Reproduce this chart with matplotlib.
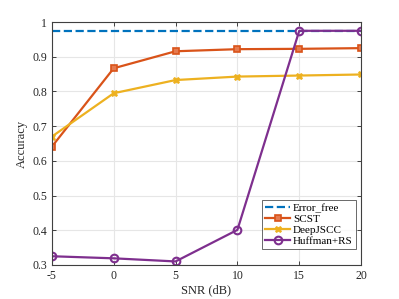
import matplotlib
matplotlib.use("Agg")
import matplotlib.pyplot as plt

snr = [-5, 0, 5, 10, 15, 20]
error_free = [0.975, 0.975, 0.975, 0.975, 0.975, 0.975]
scst = [0.641, 0.867, 0.916, 0.922, 0.923, 0.925]
deepjscc = [0.670, 0.795, 0.833, 0.843, 0.846, 0.849]
huffman = [0.325, 0.319, 0.310, 0.401, 0.975, 0.975]

plt.rcParams['font.family'] = ['Liberation Serif', 'DejaVu Serif']
plt.rcParams['axes.unicode_minus'] = False

fig = plt.figure(figsize=(3.99, 2.99), dpi=100)
ax = fig.add_axes([0.130, 0.114, 0.775, 0.812])

ax.plot(snr, error_free, '--', color='#0072BD', lw=1.6, label='Error_free')
ax.plot(snr, scst, '-s', color='#D95319', lw=1.6, ms=4.5, mfc='#E57A4F', mew=1.2, label='SCST')
ax.plot(snr, deepjscc, '-X', color='#EDB120', lw=1.6, ms=4.5, mew=0.5, label='DeepJSCC')
ax.plot(snr, huffman, '-o', color='#7E2F8E', lw=1.6, ms=5.5, mfc='none', mew=1.5, label='Huffman+RS')

ax.set_xlim(-5, 20)
ax.set_ylim(0.3, 1.0)
ax.set_xticks([-5, 0, 5, 10, 15, 20])
ax.set_yticks([0.3, 0.4, 0.5, 0.6, 0.7, 0.8, 0.9, 1.0])
ax.set_yticklabels(['0.3', '0.4', '0.5', '0.6', '0.7', '0.8', '0.9', '1'])
ax.grid(True, color='#e6e6e6', lw=0.8)
ax.set_axisbelow(True)
for s in ax.spines.values():
    s.set_color('#404040')
    s.set_linewidth(0.8)
ax.tick_params(direction='in', labelsize=8.5, colors='#262626', length=3, width=0.6,
               top=True, right=True)
ax.set_xlabel('SNR (dB)', fontsize=9, color='#262626', labelpad=2)
ax.set_ylabel('Accuracy', fontsize=9, color='#262626', labelpad=3)

leg = ax.legend(loc='lower right', bbox_to_anchor=(0.984, 0.066), fontsize=8, frameon=True,
                fancybox=False, edgecolor='#262626', borderpad=0.3, labelspacing=0.1,
                handlelength=2.2, handletextpad=0.3, borderaxespad=0.0)
leg.get_frame().set_linewidth(0.6)

fig.savefig('out.png', dpi=100)
